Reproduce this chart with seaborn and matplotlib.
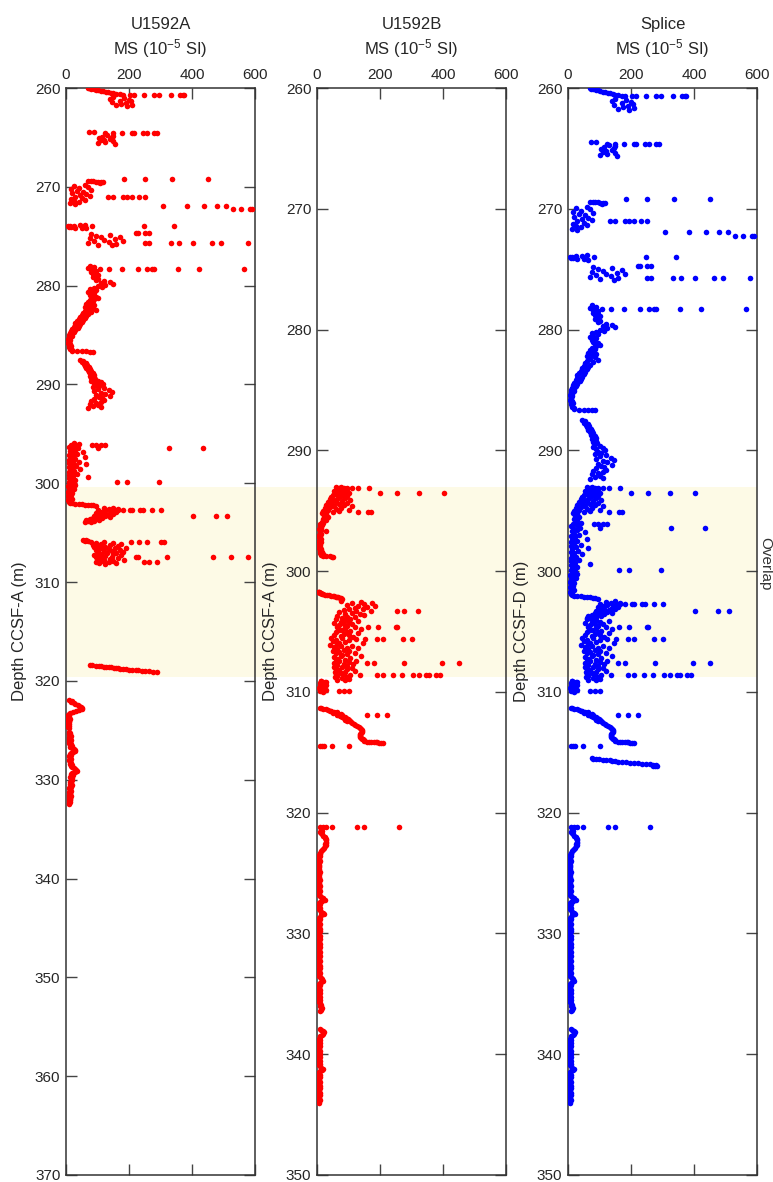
import numpy as np
import pandas as pd
import matplotlib.pyplot as plt
import seaborn as sns
from matplotlib.patches import Rectangle
from matplotlib.transforms import blended_transform_factory

# MS readings, each run starts at a top depth (m) and steps down the core
A_260 = (260.0, 0.05, [70, 74, 80, 88, 95, 103, 110, 118, 126, 134, 142, 150, 160, 170, 180])
A_261 = (260.95, 0.08, [150, 185, 140, 200, 170, 205, 145, 190, 175, 210, 160, 195])
A_265 = (264.75, 0.08, [130, 150, 115, 145, 105, 140, 120, 110, 150, 125, 100, 155])
A_269 = (269.4, 0.025, [70, 78, 86, 94, 102, 110, 117, 108])
A_270 = (269.85, 0.1, [60, 25, 70, 40, 15, 80, 35, 55, 20, 65, 45, 75, 30, 50, 15, 60, 25, 40, 12, 30])
A_274 = (273.85, 0.04, [60, 45, 25, 12, 6, 8, 15, 30, 50, 65])
A_275 = (274.8, 0.08, [80, 140, 95, 170, 110, 75, 155, 120, 180, 90, 135, 70, 160, 100, 145])
A_278 = (278.0, 0.1, [75, 90, 70, 85, 80, 95,
                      80, 95, 85, 100, 90, 85, 95, 100,
                      95, 120, 140, 110, 148, 125, 100, 115,
                      90, 75, 95, 80, 70, 90, 85, 75,
                      80, 95, 85, 100, 90, 75, 85, 70,
                      80, 65, 90, 75, 60, 85, 70, 95,
                      60, 80, 55, 70, 50, 65, 45, 60,
                      40, 55, 35, 50, 30, 45, 28, 40,
                      25, 38, 20, 30, 15, 25, 12, 20,
                      10, 18, 8, 14, 6, 12, 8, 10,
                      7, 12, 8, 15, 10, 12, 14, 18])
A_286 = (286.6, 0.02, [20, 35, 50, 65, 75, 86])
A_287 = (287.5, 0.1, [45, 55, 50, 62, 58, 68, 60, 72, 65, 75,
                      70, 80, 72, 85, 78, 90, 75, 88, 80, 92,
                      85, 100, 80, 110, 90, 118, 95, 105, 85, 120,
                      100, 135, 90, 145, 110, 125, 95, 140, 105, 115,
                      90, 120, 80, 110, 95, 75, 100, 85, 110, 70])
A_296 = (295.9, 0.1, [25, 40, 15, 30, 10, 38, 20, 28, 12, 55,
                      18, 35, 10, 22, 60, 12, 30, 8, 20, 40,
                      10, 25, 65, 14, 32, 8, 20, 45, 12, 26,
                      8, 18, 35, 10, 22, 70, 8, 16, 30, 12,
                      8, 22, 14, 28, 6, 18, 10, 25, 8, 15,
                      6, 20, 10, 15, 5, 12, 8, 18, 6, 12, 8])
A_302T = (302.0, 0.03, [12, 20, 30, 40, 50, 60, 70, 80, 86, 95])
A_302 = (302.5, 0.05, [150, 120, 165, 135, 100, 155, 125, 145, 110, 160,
                       95, 140, 115, 150, 105, 130, 90, 125, 100, 140,
                       85, 115, 95, 75, 105, 65, 90, 70, 60, 80])
A_306 = (305.7, 0.05, [55, 65, 60, 70, 80, 120, 95, 150, 110, 175,
                       85, 140, 100, 165, 125, 90, 155, 115, 190, 105,
                       135, 170, 95, 145, 120, 180, 100, 160, 130, 110,
                       150, 90, 175, 125, 105, 145, 95, 165, 115, 140,
                       100, 185, 120, 150, 110, 135, 95, 160, 105, 125])
A_318 = (318.4, 0.03, [76, 84, 95, 104, 112, 121, 128, 136, 142, 151, 158, 166,
                       172, 181, 190, 201, 210, 221, 230, 241, 252, 263, 276, 288])
A_322 = (321.9, 0.1, [10, 20, 15, 25, 30, 38, 42, 48, 52, 50, 42, 32, 22, 14, 8,
                      6, 10, 5, 9, 7, 12, 6, 8, 10, 5, 9, 7, 11, 6, 8])
A_325 = (325.2, 0.1, [10, 14, 8, 12, 16, 10, 13, 9, 15, 11,
                      14, 10, 16, 12, 18, 14, 20, 24, 28, 30,
                      22, 16, 12, 15, 10, 14, 12, 16, 11, 14,
                      12, 16, 13, 18, 15, 20, 24, 28, 32, 35,
                      28, 20, 16, 22, 18, 14, 20, 16, 18, 15,
                      12, 16, 14, 18, 12, 15, 10, 14, 12, 16,
                      10, 14, 12, 8, 15, 10, 13, 9, 12, 14,
                      10, 13, 9, 11])

A_SPIKES = [(260.7, [203, 216, 248, 279, 295, 333, 362, 371, 375]),
            (264.45, [73, 89]),
            (264.6, [124, 149, 178, 210, 216, 244, 257, 279, 289]),
            (269.2, [184, 251, 337, 451]),
            (271.0, [133, 149, 181, 194, 210, 232, 251]),
            (271.95, [308, 384, 438, 479, 508]),
            (272.25, [530, 556, 584, 590]),
            (274.0, [83, 248, 343]),
            (274.7, [222, 229, 251, 264]),
            (275.7, [251, 264, 333, 359, 403, 464, 492, 578]),
            (278.3, [108, 137, 178, 229, 257, 273, 279, 356, 422, 565]),
            (296.1, [83, 95, 111, 124]),
            (296.4, [102, 327, 435]),
            (299.9, [162, 194, 295]),
            (302.7, [165, 181, 203, 210, 235, 244, 273, 302]),
            (303.3, [403, 476, 511]),
            (305.95, [206, 232, 257, 302, 311]),
            (307.5, [222, 229, 321, 467, 524, 578]),
            (308.0, [248, 264, 289])]

B_293 = (293.0, 0.05, [60, 75, 85, 70, 95, 80, 65, 90, 55, 80, 70, 100, 60, 85, 50,
                       75, 95, 45, 70, 88, 40, 65, 105, 50, 80, 35, 60, 95, 45, 70,
                       30, 85, 55, 110, 40, 75, 25, 60, 100, 35, 70, 20, 50, 30, 15])
B_295 = (295.3, 0.1, [30, 22, 35, 25, 18, 28, 15, 20, 10, 16, 8, 12, 6, 14, 28, 8, 12, 5,
                      10, 6, 14, 8, 5, 12, 7, 10, 5, 9, 6, 12, 8, 15, 10, 18, 12])
B_298T = (298.75, 0.02, [20, 30, 40, 48, 52])
B_301T = (301.7, 0.03, [4, 5, 6, 8, 10, 12, 15, 20, 26, 32, 38, 44, 50, 55, 60, 64, 68, 72, 75, 78])
B_302 = (302.5, 0.06, [75, 140, 110, 175, 150, 95, 185, 130, 160, 120,
                       100, 145, 85, 125, 170, 70, 110, 135, 90, 150,
                       65, 95, 120, 80, 105, 60, 90, 130, 75, 100,
                       55, 85, 110, 70, 95, 120, 65, 90, 140, 80,
                       70, 105, 60, 95, 130, 85, 55, 100, 75, 115,
                       45, 80, 125, 60, 100, 50, 90, 70, 145, 65,
                       40, 75, 110, 55, 95, 130, 65, 85, 50, 100,
                       70, 120, 60, 95, 80, 140, 75, 55, 105, 65,
                       60, 90, 125, 70, 100, 55, 85, 115, 65, 95,
                       55, 80, 110, 60, 95, 70, 120, 58, 90, 75,
                       60, 85, 105, 65, 95, 58, 80, 100, 62, 88,
                       12, 30])
B_309 = (309.1, 0.08, [12, 25, 8, 18, 30, 10, 22, 6, 15, 28, 10, 20])
B_311 = (311.3, 0.05, [10, 14, 20, 28, 35, 45, 40, 55, 62, 50, 68, 75,
                       65, 80, 72, 88, 78, 92, 85, 98, 90, 102, 95, 105])
B_312 = (312.5, 0.08, [108, 112, 118, 122, 128, 132, 136, 140, 142, 144,
                       143, 140, 138, 136, 135, 138, 140, 142, 145, 148])
B_314T = (314.1, 0.015, [150, 158, 165, 172, 180, 186, 192, 198, 204, 210])
B_321 = (321.4, 0.1, [12, 15, 10, 14, 16, 20, 24, 26, 28, 27,
                      29, 28, 26, 27, 25, 22, 20, 16, 12, 10,
                      8, 6, 9, 5, 7, 6, 8, 5, 7, 6,
                      5, 7, 4, 6, 5, 8, 4, 6, 5, 7,
                      6, 5, 8, 4, 7, 5, 6, 9, 5, 7,
                      6, 8, 5, 7, 6, 9, 12, 18, 24, 15,
                      8, 6, 9, 7, 5, 8, 6, 10, 14, 20,
                      22, 12, 8, 6, 9, 5, 7, 6, 8, 5,
                      7, 6, 9, 5, 8, 6, 7, 5, 9, 6,
                      5, 8, 6, 7, 5, 9, 6, 8, 5, 7,
                      6, 9, 5, 7, 6, 8, 5, 7, 6, 9,
                      5, 7, 6, 8, 5, 9, 6, 7, 5, 8,
                      6, 7, 9, 12, 16, 19, 14, 9, 6, 8,
                      5, 7, 6, 9, 5, 8, 6, 7, 5, 8,
                      6, 9, 7, 5, 8, 12, 10, 14, 16, 12, 9])
B_338 = (337.9, 0.1, [10, 14, 18, 22, 20, 15, 10, 8, 6, 9,
                      7, 5, 8, 6, 9, 5, 7, 6, 8, 5,
                      7, 9, 6, 8, 5, 7, 6, 9, 5, 8,
                      6, 10, 14, 19, 15, 10, 7, 5, 8, 6,
                      9, 5, 7, 6, 8, 5, 7, 9, 6, 8,
                      5, 7, 6, 9, 5, 8, 6, 7, 5, 8, 6, 7])

B_SPIKES = [(293.1, [95, 111, 130, 165]),
            (293.5, [200, 254, 324, 403]),
            (295.1, [130, 162, 171]),
            (303.3, [254, 276, 321]),
            (304.6, [162, 194, 251, 254]),
            (305.6, [152, 191, 210, 273, 302]),
            (307.6, [159, 181, 276, 397, 451]),
            (308.6, [137, 191, 210, 241, 270, 305, 324, 346, 356, 378, 391]),
            (309.9, [70, 85, 100]),
            (311.95, [159, 190, 222]),
            (314.5, [10, 15, 22, 48, 102]),
            (321.15, [10, 18, 30, 48, 127, 149, 260])]

# section of hole A that fills the B gap in the splice
SPLICE_316 = (315.5, 0.03, [76, 80, 88, 98, 110, 122, 132, 140, 150, 160, 172, 185,
                            198, 210, 222, 235, 248, 260, 270, 278, 282, 276, 270])

OVERLAP = (293.0, 308.8)   # in splice depth


def run(seg):
    top, step, ms = seg
    return pd.DataFrame({'depth': top + step * np.arange(len(ms)), 'ms': ms})


def spikes(rows):
    return pd.DataFrame([(d, v) for d, vals in rows for v in vals], columns=['depth', 'ms'])


hole_a = pd.concat([run(s) for s in [A_260, A_261, A_265, A_269, A_270, A_274, A_275, A_278,
                                     A_286, A_287, A_296, A_302T, A_302, A_306, A_318,
                                     A_322, A_325]] + [spikes(A_SPIKES)], ignore_index=True)
hole_b = pd.concat([run(s) for s in [B_293, B_295, B_298T, B_301T, B_302, B_309, B_311,
                                     B_312, B_314T, B_321, B_338]] + [spikes(B_SPIKES)],
                   ignore_index=True)

# splice: A on top, B through 293-296, A to ~304, then B below
splice = pd.concat([
    hole_a[hole_a.depth < 292.6],
    hole_b[(hole_b.depth >= 292.6) & (hole_b.depth < 295.9)],
    hole_a[(hole_a.depth >= 295.9) & (hole_a.depth < 304.0)],
    hole_b[hole_b.depth >= 304.0],
    run(SPLICE_316),
], ignore_index=True)

sns.set_style('ticks')
plt.rcParams['font.family'] = ['Liberation Sans', 'DejaVu Sans']
plt.rcParams['mathtext.fontset'] = 'custom'
plt.rcParams['mathtext.rm'] = 'Liberation Sans'
plt.rcParams['mathtext.it'] = 'Liberation Sans:italic'

W, H = 773, 1182
fig = plt.figure(figsize=(W / 100, H / 100), dpi=100)

panels = [
    (66, hole_a, 'red', (260, 370), 'U1592A', 'Depth CCSF-A (m)'),
    (317, hole_b, 'red', (260, 350), 'U1592B', 'Depth CCSF-A (m)'),
    (568, splice, 'blue', (260, 350), 'Splice', 'Depth CCSF-D (m)'),
]

axes = []
for left, df, color, ylim, title, ylabel in panels:
    ax = fig.add_axes([left / W, 7 / H, 189 / W, 1087 / H])
    ax.set_facecolor('none')
    sns.scatterplot(data=df, x='ms', y='depth', color=color, s=16, linewidth=0,
                    ax=ax, zorder=3)
    ax.set_xlim(0, 600)
    ax.set_ylim(ylim[1], ylim[0])
    ax.set_xticks([0, 200, 400, 600])
    ax.set_yticks(np.arange(ylim[0], ylim[1] + 1, 10))
    ax.xaxis.tick_top()
    ax.xaxis.set_label_position('top')
    ax.tick_params(direction='in', length=8, width=1, color='#444444',
                   top=True, bottom=True, left=True, right=True,
                   labeltop=True, labelbottom=False, labelsize=11, pad=4)
    for sp in ax.spines.values():
        sp.set_color('#333333')
        sp.set_linewidth(1.1)
    ax.set_xlabel('MS (10$^{-5}$ SI)', fontsize=12, labelpad=10)
    ax.set_ylabel(ylabel, fontsize=12, labelpad=6)
    ax.set_title(title, fontsize=12, pad=6)
    axes.append(ax)

# overlap band across all three panels
ax2 = axes[1]
trans = blended_transform_factory(fig.transFigure, ax2.transData)
band = Rectangle((66 / W, OVERLAP[0]), (757 - 66) / W, OVERLAP[1] - OVERLAP[0],
                 transform=trans, facecolor='#fdfae6', edgecolor='none', zorder=-1)
fig.add_artist(band)
fig.text(765 / W, 1 - 564 / H, 'Overlap', rotation=270, ha='center', va='center',
         fontsize=11, color='#333333')

plt.savefig('out.png', dpi=100)
